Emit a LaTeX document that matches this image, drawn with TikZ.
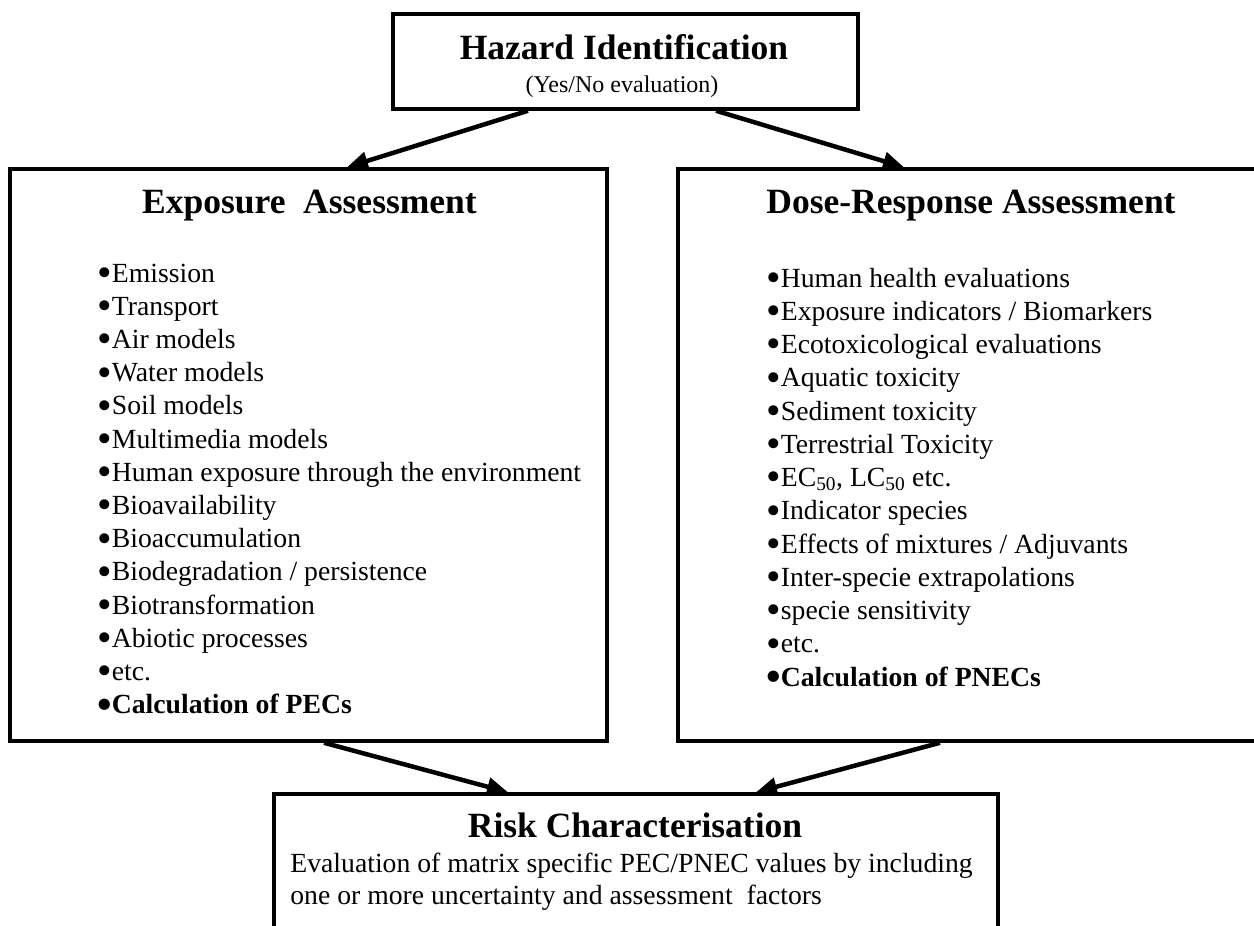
\documentclass[tikz,border=0pt]{standalone}
\usepackage{fontspec}
\setmainfont{Liberation Serif}
\usetikzlibrary{arrows.meta}

\tikzset{every picture/.style={line width=0.75pt}}
\tikzset{
  box/.style={draw, line width=3.5pt, inner sep=0pt},
  flow/.style={line width=4.5pt, -{Triangle[length=21pt,width=18pt]}}
}
\newcommand{\bul}{\makebox[14pt][l]{\raisebox{-0.16em}{\scalebox{1.5}{•}}}}
\newcommand{\hdfont}{\fontsize{35.5}{42}\bfseries\selectfont}
\newcommand{\lsfont}{\fontsize{27.7}{33}\selectfont}
\newcommand{\ntfont}{\fontsize{24}{28}\selectfont}

\begin{document}
\begin{tikzpicture}[x=1pt,y=1pt,yscale=-1]
\clip (0,0) rectangle (1254,926);

%Boxes
\node (hazard) [box, minimum width=465pt, minimum height=95pt] at (625.5,61.5) {};
\node (expo) [box, minimum width=597pt, minimum height=572pt] at (308.5,455) {};
\node (dose) [box, minimum width=592pt, minimum height=572pt] at (974,455) {};
\node (risk) [box, minimum width=724pt, minimum height=146pt] at (636,867) {};

%Arrows
\draw [flow] ([xshift=-97.5pt]hazard.south) -- ([xshift=38.5pt]expo.north);
\draw [flow] ([xshift=90.5pt]hazard.south) -- ([xshift=-70pt]dose.north);
\draw [flow] ([xshift=15.5pt]expo.south) -- ([xshift=-128pt]risk.north);
\draw [flow] ([xshift=-34pt]dose.south) -- ([xshift=120pt]risk.north);

% Text Node
\draw (624,59) node (hztitle) [anchor=base][inner sep=0pt] {\hdfont Hazard Identification};
% Text Node
\draw (622,92) node (hznote) [anchor=base][inner sep=0pt] {\ntfont (Yes/No evaluation)};
% Text Node
\draw (309.5,213) node (extitle) [anchor=base][inner sep=0pt] {\hdfont Exposure\ \ Assessment};
% Text Node
\draw (971,213) node (dotitle) [anchor=base][inner sep=0pt] {\hdfont Dose-Response Assessment};
% Text Node
\draw (635,837) node (rktitle) [anchor=base][inner sep=0pt] {\hdfont Risk Characterisation};
% Text Node
\draw (290,872) node (rk1) [anchor=base west][inner sep=0pt] {\lsfont Evaluation of matrix specific PEC/PNEC values by including};
% Text Node
\draw (290,904) node (rk2) [anchor=base west][inner sep=0pt] {\lsfont one or more uncertainty and assessment\ \ factors};

%Exposure list
\draw (97.5,282) node (ex1) [anchor=base west][inner sep=0pt] {\lsfont\bul Emission};
\draw (97.5,315.2) node (ex2) [anchor=base west][inner sep=0pt] {\lsfont\bul Transport};
\draw (97.5,348.4) node (ex3) [anchor=base west][inner sep=0pt] {\lsfont\bul Air models};
\draw (97.5,381.6) node (ex4) [anchor=base west][inner sep=0pt] {\lsfont\bul Water models};
\draw (97.5,414.8) node (ex5) [anchor=base west][inner sep=0pt] {\lsfont\bul Soil models};
\draw (97.5,448) node (ex6) [anchor=base west][inner sep=0pt] {\lsfont\bul Multimedia models};
\draw (97.5,481.2) node (ex7) [anchor=base west][inner sep=0pt] {\lsfont\bul Human exposure through the environment};
\draw (97.5,514.4) node (ex8) [anchor=base west][inner sep=0pt] {\lsfont\bul Bioavailability};
\draw (97.5,547.6) node (ex9) [anchor=base west][inner sep=0pt] {\lsfont\bul Bioaccumulation};
\draw (97.5,580.8) node (ex10) [anchor=base west][inner sep=0pt] {\lsfont\bul Biodegradation / persistence};
\draw (97.5,614) node (ex11) [anchor=base west][inner sep=0pt] {\lsfont\bul Biotransformation};
\draw (97.5,647.2) node (ex12) [anchor=base west][inner sep=0pt] {\lsfont\bul Abiotic processes};
\draw (97.5,680.4) node (ex13) [anchor=base west][inner sep=0pt] {\lsfont\bul etc.};
\draw (97.5,713.6) node (ex14) [anchor=base west][inner sep=0pt] {\lsfont\bfseries\bul Calculation of PECs};

%Dose-response list
\draw (766.5,287) node (do1) [anchor=base west][inner sep=0pt] {\lsfont\bul Human health evaluations};
\draw (766.5,320.25) node (do2) [anchor=base west][inner sep=0pt] {\lsfont\bul Exposure indicators / Biomarkers};
\draw (766.5,353.5) node (do3) [anchor=base west][inner sep=0pt] {\lsfont\bul Ecotoxicological evaluations};
\draw (766.5,386.75) node (do4) [anchor=base west][inner sep=0pt] {\lsfont\bul Aquatic toxicity};
\draw (766.5,420) node (do5) [anchor=base west][inner sep=0pt] {\lsfont\bul Sediment toxicity};
\draw (766.5,453.25) node (do6) [anchor=base west][inner sep=0pt] {\lsfont\bul Terrestrial Toxicity};
\draw (766.5,486.5) node (do7) [anchor=base west][inner sep=0pt] {\lsfont\bul EC\textsubscript{50}, LC\textsubscript{50} etc.};
\draw (766.5,519.75) node (do8) [anchor=base west][inner sep=0pt] {\lsfont\bul Indicator species};
\draw (766.5,553) node (do9) [anchor=base west][inner sep=0pt] {\lsfont\bul Effects of mixtures / Adjuvants};
\draw (766.5,586.25) node (do10) [anchor=base west][inner sep=0pt] {\lsfont\bul Inter-specie extrapolations};
\draw (766.5,619.5) node (do11) [anchor=base west][inner sep=0pt] {\lsfont\bul specie sensitivity};
\draw (766.5,652.75) node (do12) [anchor=base west][inner sep=0pt] {\lsfont\bul etc.};
\draw (766.5,686) node (do13) [anchor=base west][inner sep=0pt] {\lsfont\bfseries\bul Calculation of PNECs};

\end{tikzpicture}
\end{document}
